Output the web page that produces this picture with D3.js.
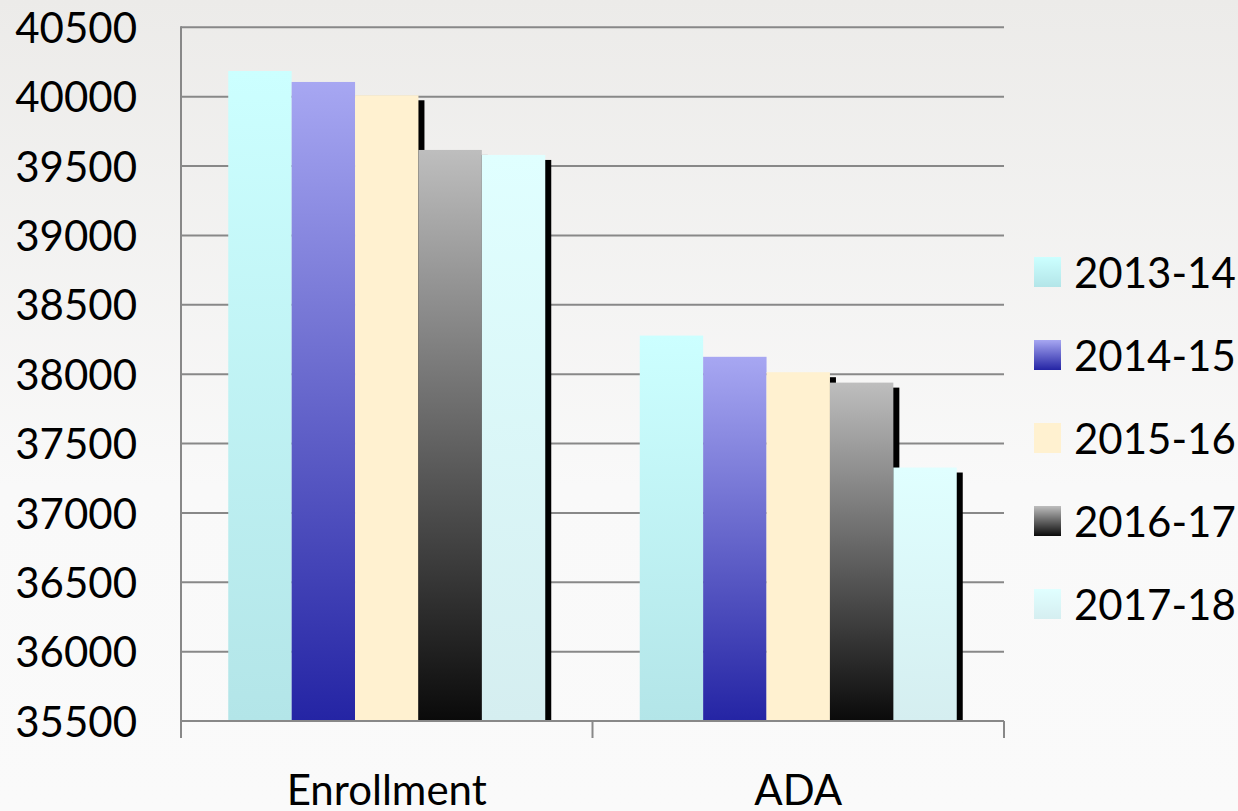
<!DOCTYPE html>
<html>
<head>
<meta charset="utf-8">
<script src="https://cdn.jsdelivr.net/npm/d3@7"></script>
<style>
  html, body { margin: 0; padding: 0; background: #f9f9f9; }
  svg { display: block; }
</style>
</head>
<body>
<svg id="chart" width="1238" height="811"></svg>
<script>
// chart data
const categories = ["Enrollment", "ADA"];
const years = ["2013-14", "2014-15", "2015-16", "2016-17", "2017-18"];
const enrollment = [40185, 40106, 40010, 39616, 39580];
const ada = [38278, 38125, 38014, 37939, 37327];
const yTicks = [35500, 36000, 36500, 37000, 37500, 38000, 38500, 39000, 39500, 40000, 40500];

// gradient stops per series (top colour, bottom colour)
const seriesColors = [
    ["#ccffff", "#b3e5e8"],
    ["#a7a7f2", "#2424a4"],
    ["#fff1d0", "#fff1d0"],
    ["#bebebe", "#0a0a0a"],
    ["#e0ffff", "#d5eef0"]
];

const svg = d3.select("#chart");
const width = 1238, height = 811;

const plotLeft = 181, plotRight = 1004, plotTop = 27.3, plotBottom = 721;
const labelFont = "Lato, 'Open Sans', sans-serif";

const defs = svg.append("defs");

// page background
const bg = defs.append("linearGradient")
    .attr("id", "bg").attr("x1", 0).attr("y1", 0).attr("x2", 0).attr("y2", 1);
bg.append("stop").attr("offset", "0%").attr("stop-color", "#ecebe9");
bg.append("stop").attr("offset", "60%").attr("stop-color", "#f9f9f9");
bg.append("stop").attr("offset", "100%").attr("stop-color", "#fafafa");

seriesColors.forEach(function (c, i) {
    const g = defs.append("linearGradient")
        .attr("id", "grad" + i)
        .attr("x1", 0).attr("y1", 0).attr("x2", 0).attr("y2", 1);
    g.append("stop").attr("offset", "0%").attr("stop-color", c[0]);
    g.append("stop").attr("offset", "100%").attr("stop-color", c[1]);
});

defs.append("filter")
    .attr("id", "blur")
    .attr("x", "-20%").attr("y", "-5%").attr("width", "140%").attr("height", "110%")
    .append("feGaussianBlur").attr("stdDeviation", 0.4);

defs.append("clipPath").attr("id", "plotclip")
    .append("rect")
    .attr("x", plotLeft).attr("y", 0)
    .attr("width", width - plotLeft).attr("height", plotBottom + 1);

svg.append("rect")
    .attr("width", width).attr("height", height)
    .attr("fill", "url(#bg)");

// scales
const y = d3.scaleLinear()
    .domain([35500, 40500])
    .range([plotBottom, plotTop]);

const x = d3.scaleBand()
    .domain(categories)
    .range([plotLeft, plotRight]);

const groupPad = 47.25;
const xInner = d3.scaleBand()
    .domain(years)
    .range([groupPad, x.bandwidth() - groupPad]);

// gridlines
svg.append("g")
    .selectAll("line")
    .data(yTicks)
    .enter().append("line")
    .attr("x1", plotLeft).attr("x2", plotRight)
    .attr("y1", d => y(d)).attr("y2", d => y(d))
    .attr("stroke", "#888888")
    .attr("stroke-width", 2);

// y axis
const yAxis = svg.append("g")
    .attr("transform", "translate(" + plotLeft + ",0)")
    .call(d3.axisLeft(y).tickValues(yTicks).tickSize(0).tickPadding(44).tickFormat(d3.format("d")));
yAxis.select(".domain")
    .attr("stroke", "#888888")
    .attr("stroke-width", 2)
    .attr("d", "M0," + (plotTop - 1) + "V" + plotBottom);
yAxis.selectAll("text")
    .attr("font-family", labelFont)
    .attr("font-size", 42)
    .attr("dy", "0.36em")
    .attr("fill", "#000");

// bars with offset shadow
const seriesValues = years.map(function (yr, i) {
    return [enrollment[i], ada[i]];
});

const barLayer = svg.append("g");
categories.forEach(function (cat, ci) {
    const grp = barLayer.append("g")
        .attr("transform", "translate(" + x(cat) + ",0)");
    years.forEach(function (yr, si) {
        const v = seriesValues[si][ci];
        const bx = xInner(yr);
        const by = y(v);
        const bw = xInner.bandwidth();
        grp.append("rect")
            .attr("x", bx + 6)
            .attr("y", by + 5)
            .attr("width", bw)
            .attr("height", plotBottom - by)
            .attr("fill", "#000")
            .attr("filter", "url(#blur)")
            .attr("clip-path", "url(#plotclip)");
        grp.append("rect")
            .attr("x", bx)
            .attr("y", by)
            .attr("width", bw)
            .attr("height", plotBottom - by)
            .attr("fill", "url(#grad" + si + ")");
    });
});

// x axis
const xAxisG = svg.append("g");
xAxisG.append("line")
    .attr("x1", plotLeft - 1).attr("x2", plotRight)
    .attr("y1", plotBottom).attr("y2", plotBottom)
    .attr("stroke", "#888888").attr("stroke-width", 2);
const tickXs = [plotLeft, x(categories[1]), plotRight];
xAxisG.selectAll(".xtick")
    .data(tickXs)
    .enter().append("line")
    .attr("class", "xtick")
    .attr("x1", d => d).attr("x2", d => d)
    .attr("y1", plotBottom).attr("y2", plotBottom + 17)
    .attr("stroke", "#888888").attr("stroke-width", 2);
xAxisG.selectAll(".xlabel")
    .data(categories)
    .enter().append("text")
    .attr("class", "xlabel")
    .attr("x", d => x(d) + x.bandwidth() / 2)
    .attr("y", 805)
    .attr("text-anchor", "middle")
    .attr("font-family", labelFont)
    .attr("font-size", 42)
    .attr("fill", "#000")
    .text(d => d);

// legend
const legend = svg.append("g");
const legendRowY = d3.scalePoint()
    .domain(years)
    .range([272, 604]);
years.forEach(function (yr, i) {
    const cy = legendRowY(yr);
    legend.append("rect")
        .attr("x", 1034)
        .attr("y", cy - 15)
        .attr("width", 27)
        .attr("height", 30)
        .attr("fill", "url(#grad" + i + ")");
    legend.append("text")
        .attr("x", 1074)
        .attr("y", cy + 15.5)
        .attr("font-family", labelFont)
        .attr("font-size", 42)
        .attr("fill", "#000")
        .text(yr);
});
</script>
</body>
</html>
